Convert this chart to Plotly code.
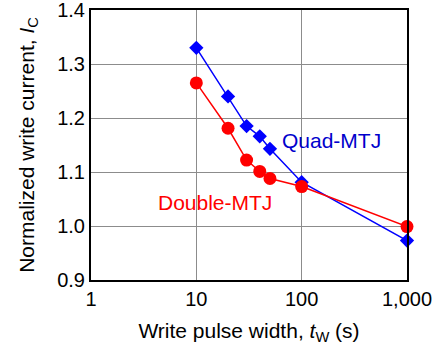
import plotly.graph_objects as go

pulse_width = [10, 20, 30, 40, 50, 100, 1000]
quad_mtj = [1.330, 1.240, 1.185, 1.166, 1.143, 1.081, 0.973]
double_mtj = [1.265, 1.181, 1.122, 1.101, 1.088, 1.073, 0.999]

x_tickvals = [1, 10, 100, 1000]
x_ticktext = ["1", "10", "100", "1,000"]
y_tickvals = [0.9, 1.0, 1.1, 1.2, 1.3, 1.4]
y_ticktext = ["0.9", "1.0", "1.1", "1.2", "1.3", "1.4"]

FONT = "Liberation Sans, Arial, sans-serif"
BLUE = "#0000ff"
RED = "#ff0000"

fig = go.Figure()
fig.add_trace(go.Scatter(x=pulse_width, y=quad_mtj, mode="lines+markers",
                         line=dict(color=BLUE, width=1.5),
                         marker=dict(symbol="diamond", size=11, color=BLUE),
                         showlegend=False, cliponaxis=False))
fig.add_trace(go.Scatter(x=pulse_width, y=double_mtj, mode="lines+markers",
                         line=dict(color=RED, width=1.5),
                         marker=dict(symbol="circle", size=13, color=RED),
                         showlegend=False, cliponaxis=False))

fig.add_annotation(x=2.28, y=1.159, xref="x", yref="y", text="Quad-MTJ",
                   showarrow=False, font=dict(family=FONT, size=21, color="#0000cc"),
                   xanchor="center", yanchor="middle")
fig.add_annotation(x=1.174, y=1.044, xref="x", yref="y", text="Double-MTJ",
                   showarrow=False, font=dict(family=FONT, size=21, color=RED),
                   xanchor="center", yanchor="middle")

fig.update_layout(
    width=435, height=347,
    margin=dict(l=91, r=28, t=10, b=67, autoexpand=False),
    paper_bgcolor="white", plot_bgcolor="white",
    font=dict(family=FONT, size=19, color="black"),
)
fig.update_xaxes(type="log", range=[0, 3], tickvals=x_tickvals, ticktext=x_ticktext,
                 showgrid=True, gridcolor="#8c8c8c", gridwidth=1,
                 showline=True, linecolor="black", linewidth=2, mirror=True,
                 ticks="", tickfont=dict(size=20), automargin=False,
                 ticklabeloverflow="allow",
                 title=dict(text="Write pulse width, <i>t</i><sub>W</sub> (s)",
                            font=dict(size=21), standoff=14))
fig.update_yaxes(range=[0.9, 1.4], tickvals=y_tickvals, ticktext=y_ticktext,
                 showgrid=True, gridcolor="#8c8c8c", gridwidth=1,
                 showline=True, linecolor="black", linewidth=2, mirror=True,
                 ticks="", tickfont=dict(size=20), automargin=False,
                 ticklabeloverflow="allow",
                 title=dict(text="Normalized write current, <i>I</i><sub>C</sub>",
                            font=dict(size=21), standoff=17))

# remove the browser's default 8px body margin so the figure fills the window
fig.write_html("out.html", config={"displayModeBar": False},
               post_script="document.body.style.margin='0px';")
